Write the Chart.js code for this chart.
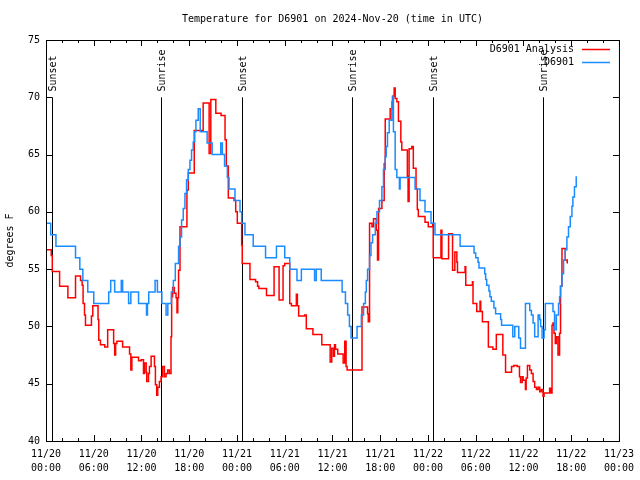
<!DOCTYPE html>
<html>
<head>
<meta charset="utf-8">
<title>Temperature for D6901</title>
<script src="https://cdn.jsdelivr.net/npm/chart.js@4.4.1/dist/chart.umd.min.js"></script>
<style>
  html, body { margin: 0; padding: 0; background: #fff; }
  canvas { display: block; }
</style>
</head>
<body>
<canvas id="tempChart" width="640" height="480"></canvas>
<script>
// --- Data: x = hours since 2024-11-20 00:00 UTC, y = degrees F ---
const obsHours = [0, 0.59, 1.25, 3.71, 4.25, 4.63, 5.25, 6.0, 7.88, 8.13, 8.63, 9.46, 9.63, 10.38, 10.66, 11.63,
  12.63, 12.75, 12.91, 13.71, 14.0, 14.56, 15.09, 15.31, 15.75, 16.0, 16.25, 16.66, 16.84, 17.04, 17.25, 17.46,
  17.66, 17.88, 18.09, 18.29, 18.5, 18.69, 18.84, 19.13, 19.38, 20.25, 20.88, 21.96, 22.16, 22.44, 22.79, 23.0,
  23.75, 24.38, 24.59, 25.0, 26.04, 27.59, 28.96, 30.0, 30.63, 31.54, 32.09, 33.75, 33.96, 34.59, 37.21, 37.63,
  37.91, 38.13, 38.34, 39.09, 39.63, 39.91, 40.13, 40.25, 40.41, 40.66, 40.84, 41.04, 41.38, 41.59, 41.91, 42.21,
  42.41, 42.63, 42.75, 42.91, 43.13, 43.46, 43.59, 43.66, 43.88, 44.09, 44.41, 44.5, 46.38, 47.0, 47.63, 48.38,
  48.88, 52.04, 53.79, 54.0, 54.29, 54.41, 55.13, 55.25, 55.38, 55.66, 55.79, 55.96, 56.29, 56.5, 57.13, 57.25,
  58.66, 58.91, 59.41, 59.63, 60.25, 60.79, 61.0, 61.21, 61.41, 61.84, 62.04, 62.16, 62.34, 62.59, 62.75, 63.71,
  63.91, 64.13, 64.41, 64.54, 64.66, 64.84, 65.04, 65.25, 65.46, 65.66, 65.88, 66.09, 66.21, 66.41, 66.63];
const obsTemps = [59, 58, 57, 56, 55, 54, 53, 52, 53, 54, 53, 54, 53, 52, 53, 52,
  51, 52, 53, 54, 53, 52, 51, 52, 53, 54, 55.5, 57, 57.8, 59.3, 60.3, 61.6,
  62.8, 63.7, 64.5, 65.4, 66.1, 67, 68, 69, 67, 66, 65, 66, 65, 64, 63, 62,
  61, 60, 59, 58, 57, 56, 57, 56, 55, 54, 55, 54, 55, 54, 53, 52,
  51, 50, 49, 50, 51, 52, 53, 54, 55, 56.2, 57.3, 58, 59, 60, 61, 62.2,
  63.7, 64.8, 65.7, 66.9, 68, 69.6, 70.1, 67, 63.7, 63, 62, 63, 62, 61, 60, 59,
  58, 57, 56.4, 56, 55.6, 55.1, 54.6, 54.1, 53.6, 53.1, 52.6, 52.2, 51.6, 51.1, 50.6, 50.1,
  49.1, 50, 49, 48.1, 52, 51.4, 51, 50.3, 49.1, 51, 50.6, 50, 49, 49.7, 52, 51.3,
  49.7, 51, 52, 52.6, 53.5, 54.6, 55.8, 56.7, 57.8, 58.7, 59.6, 60.5, 61.3, 62.2, 63.1];

const anaHours = [0, 0.66, 0.79, 1.71, 2.75, 3.71, 4.34, 4.54, 4.66, 4.84, 4.96, 5.71, 5.88, 6.54, 6.63, 6.84,
  7.38, 7.75, 8.5, 8.63, 8.75, 8.91, 9.63, 10.5, 10.66, 10.79, 11.63, 11.96, 12.25, 12.38, 12.59, 12.66,
  12.88, 13.0, 13.21, 13.63, 13.75, 13.91, 14.04, 14.25, 14.46, 14.66, 14.88, 15.09, 15.29, 15.5, 15.71, 15.79,
  15.91, 16.13, 16.34, 16.46, 16.56, 16.66, 16.84, 17.71, 17.88, 18.63, 19.75, 20.5, 20.71, 21.34, 22.0, 22.5,
  22.66, 22.91, 23.63, 23.84, 24.04, 24.59, 24.66, 25.63, 26.34, 26.59, 26.75, 27.71, 28.66, 29.29, 29.79, 30.0,
  30.63, 30.84, 31.46, 31.59, 31.75, 32.5, 32.71, 33.54, 34.66, 35.71, 35.91, 36.13, 36.25, 36.38, 36.66, 37.34,
  37.54, 37.71, 37.84, 39.71, 40.41, 40.5, 40.66, 40.96, 41.16, 41.5, 41.66, 41.79, 42.21, 42.5, 42.63, 43.25,
  43.54, 43.75, 43.88, 44.09, 44.29, 44.59, 44.71, 45.41, 45.5, 45.63, 45.96, 46.16, 46.5, 46.66, 46.79, 47.63,
  48.04, 48.59, 48.66, 49.63, 49.75, 50.59, 51.09, 51.38, 51.63, 51.71, 52.66, 52.75, 53.59, 53.66, 54.13, 54.54,
  54.63, 54.84, 55.59, 56.16, 56.59, 57.41, 57.75, 58.5, 58.79, 59.21, 59.5, 59.63, 59.84, 59.96, 60.25, 60.34,
  60.5, 60.79, 61.0, 61.21, 61.41, 61.63, 61.84, 62.04, 62.25, 62.46, 62.59, 63.29, 63.41, 63.59, 63.71, 63.84,
  64.0, 64.13, 64.34, 64.54, 64.66, 64.84, 65.25, 65.5];
const anaTemps = [56.7, 56.2, 54.8, 53.5, 52.5, 54.4, 54, 53.6, 52, 51, 50.1, 50.9, 51.8, 50.6, 48.8, 48.4,
  48.2, 49.7, 48.5, 47.5, 48.5, 48.7, 48.2, 47.6, 46.2, 47.3, 47, 47.1, 45.9, 46.8, 46, 45.2,
  45.9, 46.5, 47.4, 46.5, 44.9, 44, 44.7, 45.2, 45.6, 46.5, 45.6, 45.9, 46.2, 45.9, 49.1, 52.6,
  53.4, 52.9, 52.5, 51.2, 52.5, 54.9, 58.7, 61.9, 63.4, 67.1, 69.5, 65.1, 69.8, 68.6, 68.4, 66.3,
  64, 61.2, 61, 60, 59, 57.1, 55.5, 54.1, 53.9, 53.5, 53.3, 52.7, 55.2, 52.3, 55.3, 55.5,
  52, 51.8, 52.8, 51.8, 50.9, 51, 49.8, 49.3, 48.4, 46.9, 48.1, 47.4, 48.4, 48, 47.6, 46.8,
  48.7, 46.5, 46.2, 51.7, 51.1, 50.4, 59, 58.7, 59.4, 58.4, 55.8, 60.3, 61, 64.2, 68.1, 69,
  70.1, 70.8, 69.9, 69.6, 67.9, 66.1, 65.4, 63.1, 60.9, 65.5, 65.7, 63.8, 62, 60.2, 59.6, 59.1,
  58.7, 59, 56, 58.4, 55.9, 58.1, 54.9, 56.5, 55.6, 54.7, 55.2, 53.6, 53.9, 52, 51.3, 52.2,
  51.3, 50.4, 48.2, 48, 49.3, 47.5, 46, 46.5, 46.6, 46.5, 45.6, 45.1, 45.6, 45.3, 44.5, 45.5,
  46.6, 46.2, 45.9, 45.2, 44.7, 44.5, 44.7, 44.3, 44.5, 43.9, 44.2, 44.6, 44.2, 50.1, 50.3, 49.4,
  48.5, 49.1, 47.5, 49.4, 53.5, 56.8, 55.8, 55.5];

// Sunset / sunrise markers (hours since start)
const sunHours = [0.75, 14.5, 24.625, 38.5, 48.625, 62.5];
const sunLabels = ['Sunset', 'Sunrise', 'Sunset', 'Sunrise', 'Sunset', 'Sunrise'];

// Tick labels, one per 6 hours
const xTickLabels = [
  ['11/20', '00:00'], ['11/20', '06:00'], ['11/20', '12:00'], ['11/20', '18:00'],
  ['11/21', '00:00'], ['11/21', '06:00'], ['11/21', '12:00'], ['11/21', '18:00'],
  ['11/22', '00:00'], ['11/22', '06:00'], ['11/22', '12:00'], ['11/22', '18:00'],
  ['11/23', '00:00']
];

const seriesNames = ['D6901 Analysis', 'D6901'];
const RED = '#ff0000';
const BLUE = '#1a8cff';
const FONT = "10px 'DejaVu Sans Mono', 'Liberation Mono', monospace";

const toPoints = (xs, ys) => xs.map((h, i) => ({ x: h, y: ys[i] }));

// --- Gnuplot style frame: border, inward ticks, title, labels, legend ---
const frame = {
  id: 'frame',
  beforeDatasetsDraw(chart) {
    const { ctx, scales: { x, y } } = chart;
    ctx.save();
    ctx.strokeStyle = '#000';
    ctx.fillStyle = '#000';
    ctx.lineWidth = 1;
    ctx.font = FONT;
    sunHours.forEach((h, i) => {
      const px = Math.round(x.getPixelForValue(h)) + 0.5;
      ctx.beginPath();
      ctx.moveTo(px, y.getPixelForValue(40));
      ctx.lineTo(px, y.getPixelForValue(70));
      ctx.stroke();
      ctx.save();
      ctx.translate(px + 0.5, y.getPixelForValue(70.5));
      ctx.rotate(-Math.PI / 2);
      ctx.textAlign = 'left';
      ctx.textBaseline = 'middle';
      ctx.fillText(sunLabels[i], 0, 0);
      ctx.restore();
    });
    ctx.restore();
  },
  afterDraw(chart) {
    const { ctx, chartArea: a, scales: { x, y } } = chart;
    ctx.save();
    ctx.strokeStyle = '#000';
    ctx.lineWidth = 1;
    ctx.strokeRect(a.left + 0.5, a.top + 0.5, a.right - a.left, a.bottom - a.top);

    // ticks point inwards, mirrored on top and right
    ctx.beginPath();
    for (let h = 0; h <= 72; h += 2) {
      const px = Math.round(x.getPixelForValue(h)) + 0.5;
      const len = h % 6 === 0 ? 6 : 3;
      ctx.moveTo(px, a.bottom); ctx.lineTo(px, a.bottom - len);
      ctx.moveTo(px, a.top); ctx.lineTo(px, a.top + len);
    }
    for (let t = 40; t <= 75; t += 5) {
      const py = Math.round(y.getPixelForValue(t)) + 0.5;
      ctx.moveTo(a.left, py); ctx.lineTo(a.left + 6, py);
      ctx.moveTo(a.right, py); ctx.lineTo(a.right - 6, py);
    }
    ctx.stroke();

    ctx.fillStyle = '#000';
    ctx.font = FONT;
    ctx.textBaseline = 'middle';
    ctx.textAlign = 'center';
    ctx.fillText('Temperature for D6901 on 2024-Nov-20 (time in UTC)', (a.left + a.right) / 2, 19.5);

    ctx.save();
    ctx.translate(10, (a.top + a.bottom) / 2);
    ctx.rotate(-Math.PI / 2);
    ctx.fillText('degrees F', 0, 0);
    ctx.restore();

    // legend
    [RED, BLUE].forEach((c, i) => {
      const ly = 49.5 + i * 13;
      ctx.textAlign = 'right';
      ctx.fillStyle = '#000';
      ctx.fillText(seriesNames[i], 574, ly);
      ctx.strokeStyle = c;
      ctx.lineWidth = 1.5;
      ctx.beginPath();
      ctx.moveTo(582, ly);
      ctx.lineTo(610, ly);
      ctx.stroke();
    });
    ctx.restore();
  }
};

Chart.defaults.font.family = "'DejaVu Sans Mono', 'Liberation Mono', monospace";
Chart.defaults.font.size = 10;
Chart.defaults.color = '#000';

// Chart.js paints dataset 0 last, so the observations sit on top of the analysis
const chart = new Chart(document.getElementById('tempChart'), {
  type: 'line',
  data: {
    datasets: [
      {
        label: seriesNames[1],
        data: toPoints(obsHours, obsTemps),
        borderColor: BLUE,
        borderWidth: 1.5,
        pointRadius: 0,
        stepped: true,
        fill: false
      },
      {
        label: seriesNames[0],
        data: toPoints(anaHours, anaTemps),
        borderColor: RED,
        borderWidth: 1.5,
        pointRadius: 0,
        stepped: true,
        fill: false
      }
    ]
  },
  options: {
    responsive: false,
    animation: false,
    devicePixelRatio: 1,
    layout: { padding: { top: 40, right: 18, left: 0, bottom: 0 } },
    plugins: { legend: { display: false }, tooltip: { enabled: false } },
    scales: {
      x: {
        type: 'linear',
        min: 0,
        max: 72,
        grid: { display: false, drawTicks: false },
        border: { display: false },
        ticks: {
          stepSize: 6,
          autoSkip: false,
          maxRotation: 0,
          padding: 6,
          font: { lineHeight: 1.4 },
          callback: (v) => xTickLabels[Math.round(v / 6)]
        },
        afterFit: (s) => { s.height = 39; }
      },
      y: {
        min: 40,
        max: 75,
        grid: { display: false, drawTicks: false },
        border: { display: false },
        ticks: { stepSize: 5, padding: 6 },
        afterFit: (s) => { s.width = 46; }
      }
    }
  },
  plugins: [frame]
});
</script>
</body>
</html>
